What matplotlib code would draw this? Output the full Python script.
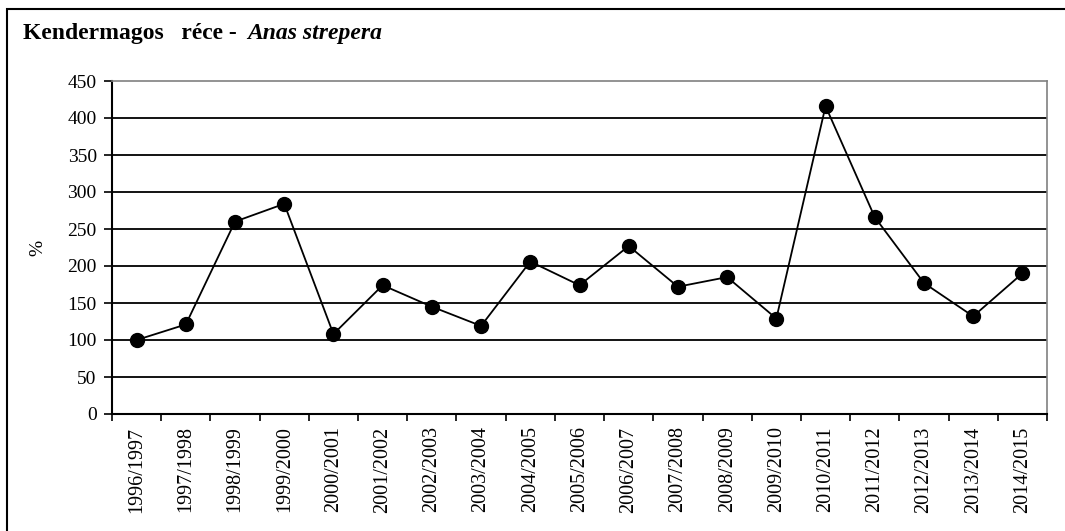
import matplotlib.pyplot as plt
from matplotlib.patches import Rectangle

plt.rcParams['font.family'] = ['Liberation Serif', 'DejaVu Serif']

seasons = ['1996/1997', '1997/1998', '1998/1999', '1999/2000', '2000/2001',
           '2001/2002', '2002/2003', '2003/2004', '2004/2005', '2005/2006',
           '2006/2007', '2007/2008', '2008/2009', '2009/2010', '2010/2011',
           '2011/2012', '2012/2013', '2013/2014', '2014/2015']
percent = [100, 121, 260, 284, 108, 174, 145, 119, 206, 174,
           227, 172, 185, 129, 416, 266, 177, 132, 190]
y_ticks = list(range(0, 451, 50))

W, H = 1065, 531
fig = plt.figure(figsize=(W / 100, H / 100), dpi=100)
ax = fig.add_axes([112 / W, 1 - 414 / H, (1047 - 112) / W, (414 - 81) / H])

# outer frame of the chart (only left/top edges fall inside the picture)
fig.patches.append(Rectangle((7 / W, -0.1), 1.2, 1 - 9 / H + 0.1,
                             transform=fig.transFigure, fill=False,
                             edgecolor='black', linewidth=1.5))

x = list(range(len(seasons)))
ax.plot(x, percent, color='black', linewidth=1.3, marker='o',
        markersize=10, markerfacecolor='black', zorder=3)

ax.set_xlim(-0.5, len(seasons) - 0.5)
ax.set_ylim(0, 450)
ax.set_yticks(y_ticks)
for v in y_ticks[1:-1]:
    ax.axhline(v, color='black', linewidth=1.3, zorder=1)

ax.set_xticks([i - 0.5 for i in range(len(seasons) + 1)])
ax.set_xticklabels([])
ax.set_xticks(x, minor=True)
ax.set_xticklabels(seasons, minor=True, rotation=90, fontsize=14.5)
ax.tick_params(axis='x', which='minor', length=0, pad=9)
ax.tick_params(axis='x', which='major', length=5, width=1.2, direction='out')
ax.tick_params(axis='y', length=6, width=1.2, direction='out', labelsize=14, pad=5)

ax.spines['left'].set_linewidth(1.5)
ax.spines['bottom'].set_linewidth(1.5)
ax.spines['top'].set_color('#808080')
ax.spines['right'].set_color('#808080')
ax.spines['top'].set_linewidth(1.2)
ax.spines['right'].set_linewidth(1.2)

ax.set_ylabel('%', fontsize=14, labelpad=15)

fig.text(23 / W, 1 - 33 / H, 'Kendermagos   réce -', fontsize=17,
         fontweight='bold', va='center', ha='left')
fig.text(247 / W, 1 - 33 / H, 'Anas strepera', fontsize=17,
         fontweight='bold', style='italic', va='center', ha='left')

fig.savefig('out.png', dpi=100)
